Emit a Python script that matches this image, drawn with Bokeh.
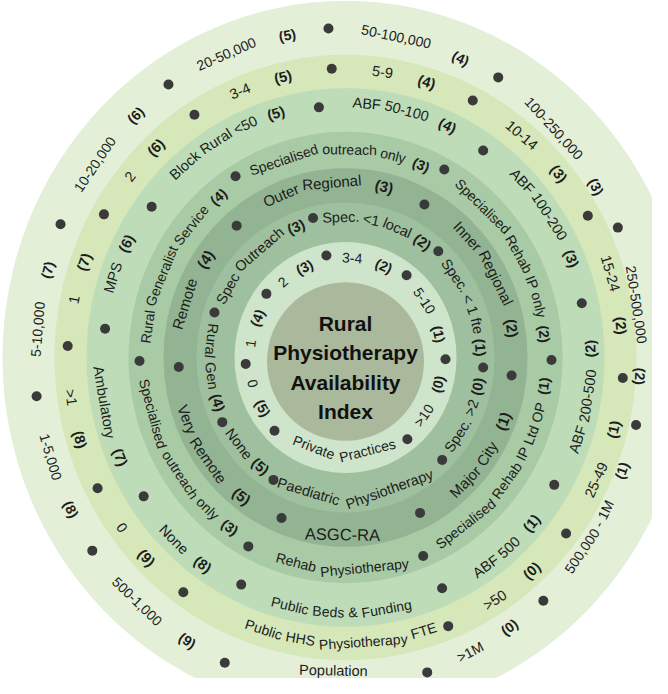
import math
from bokeh.plotting import figure
from bokeh.models import ColumnDataSource, Range1d
from bokeh.core.properties import value
from bokeh.embed import file_html
from bokeh.resources import INLINE

# ---------------- data ----------------
index_title = ["Rural", "Physiotherapy", "Availability", "Index"]

ring_titles = ["Population", "Public HHS Physiotherapy FTE", "Public Beds & Funding",
               "Rehab Physiotherapy", "ASGC-RA", "Paediatric Physiotherapy", "Private Practices"]

population_labels = ["500-1,000", "1-5,000", "5-10,000", "10-20,000", "20-50,000",
                     "50-100,000", "100-250,000", "250-500,000", "500,000 - 1M", ">1M"]
population_scores = [9, 8, 7, 6, 5, 4, 3, 2, 1, 0]

fte_labels = ["0", ">1", "1", "2", "3-4", "5-9", "10-14", "15-24", "25-49", ">50"]
fte_scores = [9, 8, 7, 6, 5, 4, 3, 2, 1, 0]

beds_labels = ["None", "Ambulatory", "MPS", "Block Rural <50", "ABF 50-100",
               "ABF 100-200", "ABF 200-500", "ABF 500"]
beds_scores = [8, 7, 6, 5, 4, 3, 2, 1]

rehab_labels = ["Specialised outreach only", "Rural Generalist Service",
                "Specialised outreach only", "Specialised Rehab IP only",
                "Specialised Rehab IP Ltd OP"]
rehab_scores = [3, 4, 3, 2, 1]

asgc_labels = ["Very Remote", "Remote", "Outer Regional", "Inner Regional", "Major City"]
asgc_scores = [5, 4, 3, 2, 1]

paed_labels = ["None", "Rural Gen", "Spec Outreach", "Spec. <1 local", "Spec. < 1 fte", "Spec. >2"]
paed_scores = [5, 4, 3, 2, 1, 0]

private_labels = ["0", "1", "2", "3-4", "5-10", ">10"]
private_scores = [5, 4, 3, 2, 1, 0]

# ---------------- layout / style ----------------
FIG_W, FIG_H = 652, 678
TOP = 694                      # data y = TOP - pixel row
CX, CY_PIX = 345.0, 357.0
K = 1.04                       # vertical stretch of the rings
TITLE_CENTER = 181.0
FLIP_FROM, FLIP_TO = 90.0, 275.0   # labels centred in this span read left to right along the bottom
FONT = "Liberation Sans"

rings = [
    dict(labels=population_labels, scores=population_scores, title=ring_titles[0],
         r_out=343, r_txt=302, r_title=289, r_dot=304, fs=14, tfs=14.5, gap=24, pad=13,
         shift=1.5, fill="#e4efd8", tcx=338.0, tcy=357.0, k=1.083),
    dict(labels=fte_labels, scores=fte_scores, title=ring_titles[1],
         r_out=291, r_txt=277, r_title=274, r_dot=278, fs=14.5, tfs=14, gap=26, pad=0,
         shift=6.0, fill="#d6e7b9"),
    dict(labels=beds_labels, scores=beds_scores, title=ring_titles[2],
         r_out=259, r_txt=245, r_title=245, r_dot=242, fs=14.5, tfs=14, gap=12, pad=0,
         shift=0.0, fill="#bedcb7"),
    dict(labels=rehab_labels, scores=rehab_scores, title=ring_titles[3],
         r_out=217, r_txt=200, r_title=203, r_dot=206, fs=14, tfs=14, gap=8, pad=4.5,
         shift=2.0, fill="#a8caa5"),
    dict(labels=asgc_labels, scores=asgc_scores, title=ring_titles[4],
         r_out=182, r_txt=169, r_title=170, r_dot=167, fs=15, tfs=16.5, gap=14, pad=0,
         shift=-3.0, fill="#92b492"),
    dict(labels=paed_labels, scores=paed_scores, title=ring_titles[5],
         r_out=149, r_txt=135, r_title=134, r_dot=138, fs=14.5, tfs=14.5, gap=5, pad=0,
         shift=-2.0, tc=175.5, fill="#9fc09e"),
    dict(labels=private_labels, scores=private_scores, title=ring_titles[6],
         r_out=111, r_txt=96, r_title=92, r_dot=100, fs=14, tfs=14, gap=14, pad=0,
         shift=2.5, fill="#cfe5cb"),
]
CENTER_R = 78.5
CENTER_FILL = "#aab99c"
TEXT_COLOR = "#1c1c1c"
DOT_COLOR = "#3a3a3a"

ARIAL = {' ': 278, '(': 333, ')': 333, ',': 278, '-': 333, '.': 278, '<': 584, '>': 584, '&': 667,
         'A': 667, 'B': 667, 'C': 722, 'D': 722, 'E': 667, 'F': 611, 'G': 778, 'H': 722, 'I': 278,
         'J': 500, 'K': 667, 'L': 556, 'M': 833, 'N': 722, 'O': 778, 'P': 667, 'Q': 778, 'R': 722,
         'S': 667, 'T': 611, 'U': 722, 'V': 667, 'W': 944, 'X': 667, 'Y': 667, 'Z': 611,
         'a': 556, 'b': 556, 'c': 500, 'd': 556, 'e': 556, 'f': 278, 'g': 556, 'h': 556, 'i': 222,
         'j': 222, 'k': 500, 'l': 222, 'm': 833, 'n': 556, 'o': 556, 'p': 556, 'q': 556, 'r': 333,
         's': 500, 't': 278, 'u': 556, 'v': 500, 'w': 722, 'x': 500, 'y': 500, 'z': 500}


def tw(s, fs):
    return sum(ARIAL.get(ch, 556) for ch in s) / 1000.0 * fs


class Geo:
    def __init__(self, cx, cy_pix, k):
        self.cx, self.cy, self.k = cx, TOP - cy_pix, k

    def xy(self, a, r):
        ar = math.radians(a)
        return self.cx + r * math.sin(ar), self.cy + r * self.k * math.cos(ar)

    def metric(self, a):
        ar = math.radians(a)
        return math.sqrt(math.cos(ar) ** 2 + (self.k * math.sin(ar)) ** 2)

    def rot(self, a, flip):
        ar = math.radians(a)
        t = math.atan2(-self.k * math.sin(ar), math.cos(ar))
        return t + math.pi if flip else t


def new_store():
    return dict(x=[], y=[], text=[], angle=[], size=[])


labels_s, nums_s, titles_s = new_store(), new_store(), new_store()
dots = dict(x=[], y=[])


def put(geo, store, text, a, r, fs, flip):
    x, y = geo.xy(a, r)
    store["x"].append(x)
    store["y"].append(y)
    store["text"].append(text)
    store["angle"].append(geo.rot(a, flip))
    store["size"].append(f"{fs}px")


def put_words(geo, store, text, a0, r, d, fs, flip, m):
    sp = tw(" ", fs)
    s = 0.0
    for w in text.split(" "):
        ww = tw(w, fs)
        a = a0 + d * math.degrees((s + ww / 2) / (r * m))
        put(geo, store, w, a, r, fs, flip)
        s += ww + sp


for ring in rings:
    geo = Geo(ring.get("tcx", CX), ring.get("tcy", CY_PIX), ring.get("k", K))
    tc = ring.get("tc", TITLE_CENTER)
    labels, scores = ring["labels"], ring["scores"]
    r, fs, gap = ring["r_txt"], ring["fs"], ring["gap"]
    nums = [f"({s})" for s in scores]
    widths = [tw(l, fs) + gap + tw(nm, fs) for l, nm in zip(labels, nums)]
    arcs = [math.degrees(w / r) for w in widths]
    t_w = tw(ring["title"], ring["tfs"])
    t_arc = math.degrees(t_w / ring["r_title"]) + ring["pad"]
    g = (360.0 - sum(arcs) - t_arc) / (len(labels) + 1)
    b = tc + (t_arc + g) / 2 + ring["shift"]
    bounds = [b]
    for lab, nm, w, arc in zip(labels, nums, widths, arcs):
        c = b + (arc + g) / 2
        flip = FLIP_FROM < (c % 360) < FLIP_TO
        d = -1 if flip else 1
        m = geo.metric(c)
        a0 = c - d * math.degrees(w / 2 / (r * m))
        put_words(geo, labels_s, lab, a0, r, d, fs, flip, m)
        an = a0 + d * math.degrees((tw(lab, fs) + gap + tw(nm, fs) / 2) / (r * m))
        put(geo, nums_s, nm, an, r, fs, flip)
        b += arc + g
        bounds.append(b)
    for bb in bounds:
        x, y = geo.xy(bb, ring["r_dot"])
        dots["x"].append(x)
        dots["y"].append(y)
    # ring title at the bottom, reading left to right
    mt = geo.metric(tc)
    a0 = tc + math.degrees(t_w / 2 / (ring["r_title"] * mt))
    put_words(geo, titles_s, ring["title"], a0, ring["r_title"], -1, ring["tfs"], True, mt)

# ---------------- figure ----------------
p = figure(width=FIG_W, height=FIG_H, x_range=Range1d(0, FIG_W), y_range=Range1d(TOP - FIG_H, TOP),
           output_backend="svg", toolbar_location=None,
           x_axis_location=None, y_axis_location=None, min_border=0,
           outline_line_color=None, background_fill_color="white", border_fill_color="white")
p.xgrid.visible = False
p.ygrid.visible = False

cy_data = TOP - CY_PIX
disc = ColumnDataSource(dict(
    x=[CX] * len(rings) + [CX],
    y=[cy_data] * len(rings) + [cy_data - 4],
    w=[2 * rg["r_out"] for rg in rings] + [2 * CENTER_R],
    h=[2 * rg["r_out"] * K for rg in rings] + [2 * CENTER_R * 1.01],
    c=[rg["fill"] for rg in rings] + [CENTER_FILL],
))
p.ellipse(x="x", y="y", width="w", height="h", fill_color="c", line_color=None, source=disc)

p.scatter(x="x", y="y", size=10, fill_color=DOT_COLOR, line_color=None,
          source=ColumnDataSource(dots))

for store, style in ((labels_s, "normal"), (nums_s, "bold"), (titles_s, "normal")):
    p.text(x="x", y="y", text="text", angle="angle", text_font_size="size",
           text_font=value(FONT), text_font_style=style, text_color=TEXT_COLOR,
           text_align="center", text_baseline="middle", source=ColumnDataSource(store))

ct = dict(x=[CX] * len(index_title),
          y=[TOP - (367 + (i - 1.5) * 29.5) for i in range(len(index_title))],
          text=index_title)
p.text(x="x", y="y", text="text", text_font=value(FONT),
       text_font_size="21px", text_font_style="bold", text_color="#111111",
       text_align="center", text_baseline="middle", source=ColumnDataSource(ct))

open("out.html", "w").write(file_html(p, INLINE))
